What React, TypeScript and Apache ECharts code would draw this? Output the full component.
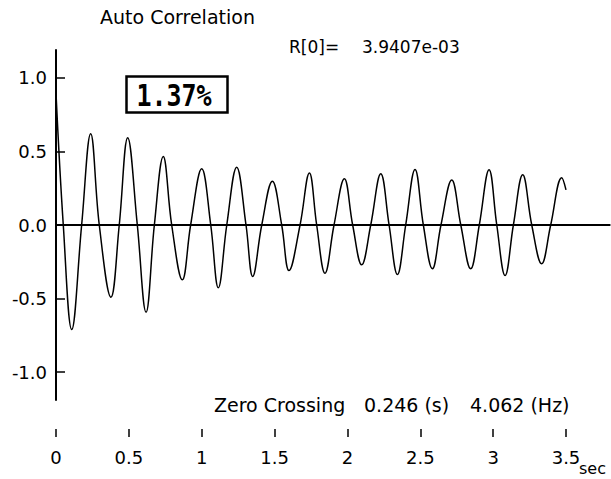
import React, { useEffect, useRef } from "react";
import * as echarts from "echarts";

// Lag times (s) and normalized autocorrelation values
const lagTimes = [
  0.0, 0.05, 0.108, 0.176, 0.238, 0.297, 0.377, 0.434, 0.492, 0.558,
  0.618, 0.675, 0.736, 0.794, 0.867, 0.924, 1.0, 1.062, 1.114, 1.172,
  1.24, 1.304, 1.35, 1.412, 1.485, 1.549, 1.599, 1.675, 1.739, 1.789,
  1.846, 1.908, 1.979, 2.036, 2.098, 2.16, 2.229, 2.286, 2.343, 2.4,
  2.464, 2.521, 2.583, 2.642, 2.716, 2.778, 2.846, 2.905, 2.972, 3.025,
  3.082, 3.139, 3.203, 3.265, 3.333, 3.395, 3.471, 3.5,
];
const corrValues = [
  0.895, 0.0, -0.711, 0.0, 0.62, 0.0, -0.491, 0.0, 0.593, 0.0,
  -0.593, 0.0, 0.466, 0.0, -0.373, 0.0, 0.382, 0.0, -0.427, 0.0,
  0.393, 0.0, -0.35, 0.0, 0.298, 0.0, -0.31, 0.0, 0.354, 0.0,
  -0.328, 0.0, 0.314, 0.0, -0.271, 0.0, 0.348, 0.0, -0.337, 0.0,
  0.378, 0.0, -0.298, 0.0, 0.306, 0.0, -0.298, 0.0, 0.376, 0.0,
  -0.344, 0.0, 0.341, 0.0, -0.264, 0.0, 0.321, 0.239,
];

const xTickValues = [0, 0.5, 1, 1.5, 2, 2.5, 3, 3.5];
const yTickValues = [-1, -0.5, 0, 0.5, 1];

const titleText = "Auto Correlation";
const r0Label = "R[0]=";
const r0Value = "3.9407e-03";
const percentText = "1.37%";
const zeroCrossLabel = "Zero Crossing";
const zeroCrossSec = "0.246 (s)";
const zeroCrossHz = "4.062 (Hz)";
const xUnit = "sec";

const FONT = "DejaVu Sans";

export default function App() {
  const ref = useRef<HTMLDivElement>(null);

  useEffect(() => {
    if (!ref.current) return;
    const chart = echarts.init(ref.current, undefined, { renderer: "svg" });
    const data = lagTimes.map((t, i) => [t, corrValues[i]]);

    chart.setOption({
      animation: false,
      backgroundColor: "#ffffff",
      grid: { left: 56, top: 50, width: 553.7, height: 350, containLabel: false },
      xAxis: [
        {
          type: "value",
          min: 0,
          max: 3.8,
          position: "bottom",
          offset: 29,
          splitLine: { show: false },
          axisLine: { show: false, onZero: false },
          axisTick: {
            show: true,
            length: 8,
            inside: false,
            customValues: xTickValues,
            lineStyle: { color: "#000", width: 1.5 },
          },
          axisLabel: {
            show: true,
            customValues: xTickValues,
            margin: 19,
            color: "#000",
            fontFamily: FONT,
            fontSize: 18,
            formatter: (v: number) => String(v),
          },
        },
        {
          type: "value",
          min: 0,
          max: 3.8,
          position: "top",
          splitLine: { show: false },
          axisLine: { show: true, onZero: true, lineStyle: { color: "#000", width: 2 } },
          axisTick: { show: false },
          axisLabel: { show: false },
        },
      ],
      yAxis: {
        type: "value",
        min: -1.19,
        max: 1.19,
        splitLine: { show: false },
        axisLine: { show: true, onZero: false, lineStyle: { color: "#000", width: 2 } },
        axisTick: {
          show: true,
          inside: true,
          length: 9,
          customValues: yTickValues,
          lineStyle: { color: "#000", width: 1.5 },
        },
        axisLabel: {
          show: true,
          customValues: yTickValues,
          margin: 9,
          color: "#000",
          fontFamily: FONT,
          fontSize: 18,
          formatter: (v: number) => v.toFixed(1),
        },
      },
      series: [
        {
          type: "line",
          data,
          xAxisIndex: 0,
          yAxisIndex: 0,
          showSymbol: false,
          smooth: 0.4,
          lineStyle: { color: "#000", width: 1.5 },
        },
      ],
      graphic: [
        {
          type: "text",
          x: 100,
          y: 17,
          style: { text: titleText, fill: "#000", font: `19px '${FONT}'`, textAlign: "left", textVerticalAlign: "middle" },
        },
        {
          type: "text",
          x: 289,
          y: 47,
          style: { text: r0Label, fill: "#000", font: `17px '${FONT}'`, textAlign: "left", textVerticalAlign: "middle" },
        },
        {
          type: "text",
          x: 362,
          y: 47,
          style: { text: r0Value, fill: "#000", font: `17px '${FONT}'`, textAlign: "left", textVerticalAlign: "middle" },
        },
        {
          type: "rect",
          shape: { x: 126.5, y: 76.5, width: 101, height: 36 },
          style: { fill: "#fff", stroke: "#000", lineWidth: 2.5 },
          z: 10,
        },
        {
          type: "text",
          x: 174,
          y: 96,
          scaleY: 1.18,
          z: 11,
          style: {
            text: percentText,
            fill: "#000",
            font: `bold 25px 'DejaVu Sans Mono'`,
            textAlign: "center",
            textVerticalAlign: "middle",
          },
        },
        {
          type: "text",
          x: 214,
          y: 405,
          style: { text: zeroCrossLabel, fill: "#000", font: `19px '${FONT}'`, textAlign: "left", textVerticalAlign: "middle" },
        },
        {
          type: "text",
          x: 364,
          y: 405,
          style: { text: zeroCrossSec, fill: "#000", font: `19px '${FONT}'`, textAlign: "left", textVerticalAlign: "middle" },
        },
        {
          type: "text",
          x: 470,
          y: 405,
          style: { text: zeroCrossHz, fill: "#000", font: `19px '${FONT}'`, textAlign: "left", textVerticalAlign: "middle" },
        },
        {
          type: "text",
          x: 579,
          y: 468,
          style: { text: xUnit, fill: "#000", font: `16px '${FONT}'`, textAlign: "left", textVerticalAlign: "middle" },
        },
      ],
    });

    return () => chart.dispose();
  }, []);

  return (
    <div
      ref={ref}
      style={{ position: "fixed", left: 0, top: 0, width: 611, height: 479, background: "#fff" }}
    />
  );
}
